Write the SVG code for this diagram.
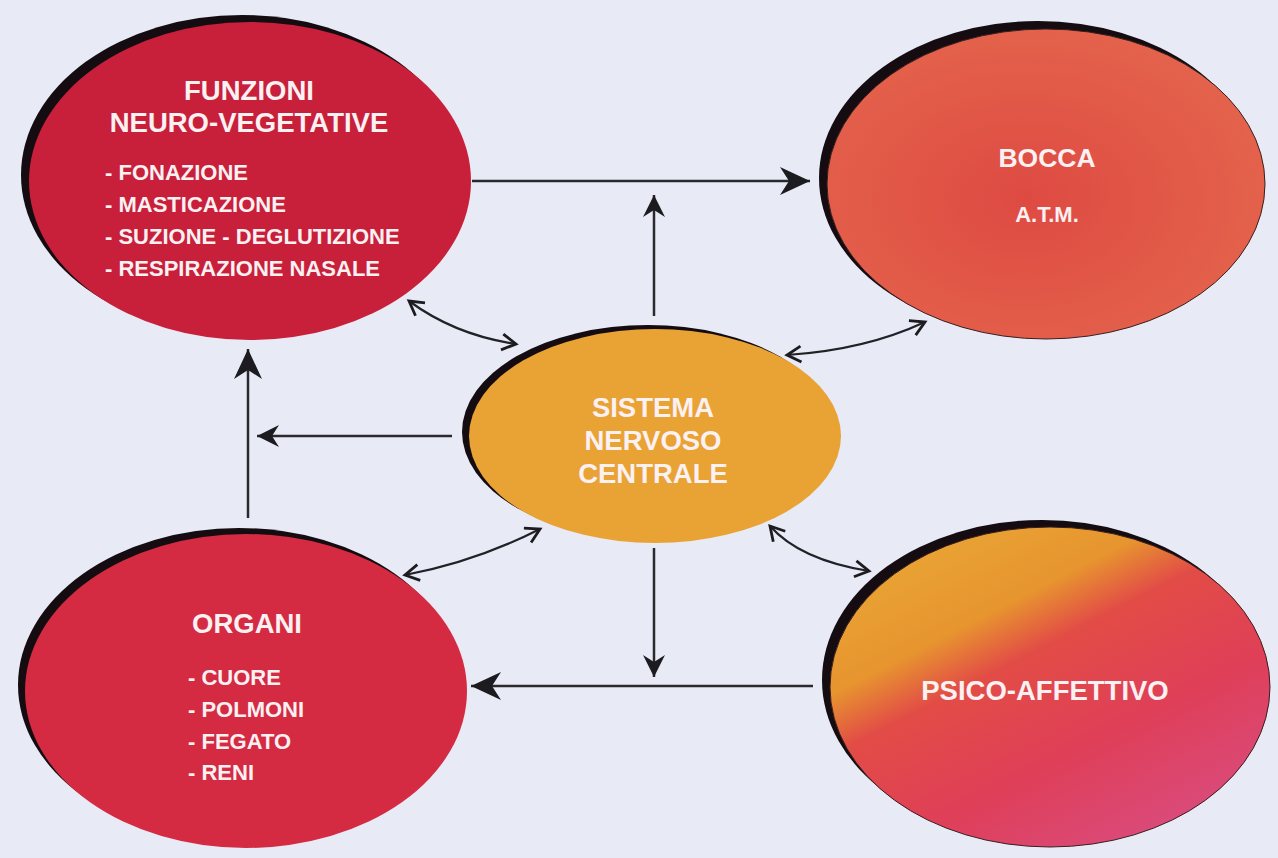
<svg xmlns="http://www.w3.org/2000/svg" width="1278" height="858" viewBox="0 0 1278 858">
<defs>
<style>
.shadow{fill:#140c10}
.lbl{font-family:"Liberation Sans",Arial,sans-serif;font-weight:bold;fill:#fbf0f2}
.title{font-size:27.5px;text-anchor:middle}
.item{font-size:22px}
.conn{fill:none;stroke:#2a2a2e;stroke-width:2.5}
.curve{fill:none;stroke:#222226;stroke-width:2.2}
</style>
<marker id="big" markerUnits="userSpaceOnUse" markerWidth="40" markerHeight="40" viewBox="-34 -20 40 40" refX="0" refY="0" orient="auto">
<polygon points="0,0 -30,-14 -21,0 -30,14" fill="#1c1c20"/>
</marker>
<marker id="small" markerUnits="userSpaceOnUse" markerWidth="30" markerHeight="30" viewBox="-26 -15 30 30" refX="0" refY="0" orient="auto">
<polygon points="0,0 -22,-11 -15,0 -22,11" fill="#1c1c20"/>
</marker>
<marker id="thinEnd" markerUnits="userSpaceOnUse" markerWidth="24" markerHeight="24" viewBox="-20 -12 24 24" refX="0" refY="0" orient="auto">
<path d="M-14,-8 L0,0 L-14,8" fill="none" stroke="#1c1c20" stroke-width="2.8"/>
</marker>
<marker id="thinStart" markerUnits="userSpaceOnUse" markerWidth="24" markerHeight="24" viewBox="-20 -12 24 24" refX="0" refY="0" orient="auto-start-reverse">
<path d="M-14,-8 L0,0 L-14,8" fill="none" stroke="#1c1c20" stroke-width="2.8"/>
</marker>
<radialGradient id="gBocca" cx="0.45" cy="0.55" r="0.6">
<stop offset="0" stop-color="#de4a42"/>
<stop offset="1" stop-color="#e4644c"/>
</radialGradient>
<linearGradient id="gPsico" x1="0.15" y1="0.1" x2="0.75" y2="0.95">
<stop offset="0" stop-color="#e9a334"/>
<stop offset="0.25" stop-color="#e7952f"/>
<stop offset="0.4" stop-color="#e24c46"/>
<stop offset="0.7" stop-color="#df3f58"/>
<stop offset="1" stop-color="#da4a7a"/>
</linearGradient>
</defs>
<rect width="1278" height="858" fill="#e8eaf6"/>

<g id="connectors">
<line class="conn" x1="472" y1="181" x2="810" y2="181" marker-end="url(#big)"/>
<line class="conn" x1="654" y1="316" x2="654" y2="195" marker-end="url(#small)"/>
<line class="conn" x1="452" y1="436" x2="257" y2="436" marker-end="url(#small)"/>
<line class="conn" x1="248" y1="518" x2="248" y2="349" marker-end="url(#big)"/>
<line class="conn" x1="654" y1="548" x2="654" y2="677" marker-end="url(#small)"/>
<line class="conn" x1="813" y1="686" x2="471" y2="686" marker-end="url(#big)"/>
<path class="curve" d="M409,301 Q455,335 516,344" marker-start="url(#thinStart)" marker-end="url(#thinEnd)"/>
<path class="curve" d="M787,355 Q865,350 925,322" marker-start="url(#thinStart)" marker-end="url(#thinEnd)"/>
<path class="curve" d="M405,575 Q475,562 540,529" marker-start="url(#thinStart)" marker-end="url(#thinEnd)"/>
<path class="curve" d="M770,526 Q800,560 869,571" marker-start="url(#thinStart)" marker-end="url(#thinEnd)"/>
</g>

<g id="funzioni">
<ellipse class="shadow" cx="242" cy="175" rx="221" ry="160"/>
<ellipse cx="250" cy="181" rx="221" ry="159" fill="#c81f3a"/>
<text class="lbl title" x="249" y="100">FUNZIONI</text>
<text class="lbl title" x="249" y="132">NEURO-VEGETATIVE</text>
<text class="lbl item" x="105" y="180">- FONAZIONE</text>
<text class="lbl item" x="105" y="212">- MASTICAZIONE</text>
<text class="lbl item" x="105" y="244">- SUZIONE - DEGLUTIZIONE</text>
<text class="lbl item" x="105" y="276">- RESPIRAZIONE NASALE</text>
</g>

<g id="bocca">
<ellipse class="shadow" cx="1038" cy="178" rx="219" ry="157"/>
<ellipse cx="1046" cy="184" rx="219" ry="155" fill="url(#gBocca)" stroke="#3a1e1e" stroke-width="1"/>
<text class="lbl" x="1047" y="167" font-size="26.5" text-anchor="middle">BOCCA</text>
<text class="lbl" x="1047" y="222" font-size="22" text-anchor="middle">A.T.M.</text>
</g>

<g id="snc">
<ellipse class="shadow" cx="648" cy="432" rx="186" ry="107"/>
<ellipse cx="655" cy="436" rx="186" ry="107" fill="#e9a234"/>
<text class="lbl title" x="653" y="417" font-size="26.5">SISTEMA</text>
<text class="lbl title" x="653" y="450" font-size="26.5">NERVOSO</text>
<text class="lbl title" x="653" y="483" font-size="26.5">CENTRALE</text>
</g>

<g id="organi">
<ellipse class="shadow" cx="239" cy="685" rx="221" ry="157"/>
<ellipse cx="246" cy="691" rx="221" ry="157" fill="#d42a42"/>
<text class="lbl title" x="247" y="633">ORGANI</text>
<text class="lbl item" x="188" y="685">- CUORE</text>
<text class="lbl item" x="188" y="717">- POLMONI</text>
<text class="lbl item" x="188" y="749">- FEGATO</text>
<text class="lbl item" x="188" y="780">- RENI</text>
</g>

<g id="psico">
<ellipse class="shadow" cx="1042" cy="680" rx="220" ry="160"/>
<ellipse cx="1050" cy="687" rx="220" ry="160" fill="url(#gPsico)" stroke="#3a1e1e" stroke-width="1"/>
<text class="lbl title" x="1045" y="700">PSICO-AFFETTIVO</text>
</g>
</svg>
